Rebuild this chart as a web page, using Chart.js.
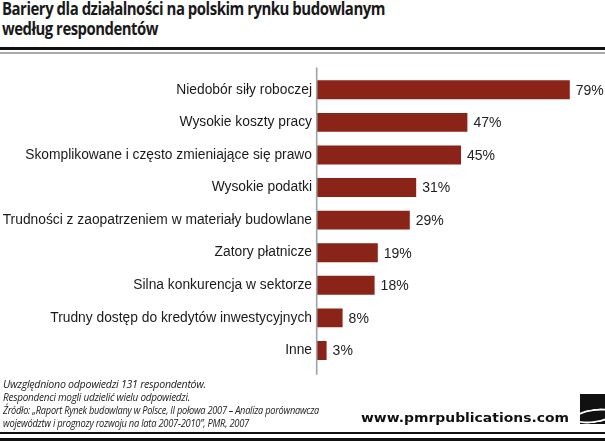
<!DOCTYPE html>
<html><head><meta charset="utf-8">
<script src="https://cdn.jsdelivr.net/npm/chart.js@4.4.0/dist/chart.umd.min.js"></script>
<style>
html,body{margin:0;padding:0;background:#fff;width:605px;height:443px;overflow:hidden;position:relative}
.t{position:absolute;white-space:nowrap;}
.fit{display:inline-block;transform-origin:left top;}
#title{left:2px;top:-2px;font:bold 18.5px "Open Sans",sans-serif;color:#1a1a1a;line-height:20px;letter-spacing:-0.6px}
.foot{left:3px;font:italic 11px "Open Sans",sans-serif;color:#222;line-height:13px;letter-spacing:-0.3px}
#www{font:bold 13px "DejaVu Sans",sans-serif;color:#111;top:410px;}
.rule{position:absolute;left:0;width:605px}
#chartwrap{position:absolute;left:0;top:60px;width:605px;height:320px}
#logo{position:absolute;left:580px;top:394px;width:25px;height:30px;background:#111;overflow:hidden}
#logo div{position:absolute;left:-6px;top:15px;width:36px;height:10px;border:2px solid #fff;border-radius:50%;border-right-color:transparent;transform:rotate(-8deg)}
</style></head><body>
<div class="t" id="title"><span class="fit" data-w="383">Bariery dla działalności na polskim rynku budowlanym</span><br><span class="fit" data-w="156">według respondentów</span></div>
<div class="rule" style="top:47px;height:3px;background:#111"></div>
<div class="rule" style="top:52px;height:2px;background:#aaa"></div>
<div id="chartwrap"><canvas id="c" width="605" height="320"></canvas></div>
<div class="t foot" style="top:377px"><span class="fit" data-w="203">Uwzględniono odpowiedzi 131 respondentów.</span></div>
<div class="t foot" style="top:390px"><span class="fit" data-w="187">Respondenci mogli udzielić wielu odpowiedzi.</span></div>
<div class="t foot" style="top:403px"><span class="fit" data-w="316">Źródło: „Raport Rynek budowlany w Polsce, II połowa 2007 – Analiza porównawcza</span></div>
<div class="t foot" style="top:416px"><span class="fit" data-w="246">województw i prognozy rozwoju na lata 2007-2010”, PMR, 2007</span></div>
<div class="t" id="www" style="left:361px"><span class="fit" data-w="208">www.pmrpublications.com</span></div>
<div id="logo"><div></div></div>
<div class="rule" style="top:432px;height:2px;background:#111"></div>
<div class="rule" style="top:438px;height:3px;background:#111"></div>
<script>
const categories = [
  "Niedobór siły roboczej",
  "Wysokie koszty pracy",
  "Skomplikowane i często zmieniające się prawo",
  "Wysokie podatki",
  "Trudności z zaopatrzeniem w materiały budowlane",
  "Zatory płatnicze",
  "Silna konkurencja w sektorze",
  "Trudny dostęp do kredytów inwestycyjnych",
  "Inne"
];
const values = [79, 47, 45, 31, 29, 19, 18, 8, 3];

document.querySelectorAll('.fit').forEach(el => {
  const w = el.getBoundingClientRect().width;
  const target = parseFloat(el.dataset.w);
  if (w > 0) el.style.transform = 'scaleX(' + (target / w) + ')';
});

const valueLabels = {
  id: 'valueLabels',
  afterDatasetsDraw(chart) {
    const ctx = chart.ctx;
    const meta = chart.getDatasetMeta(0);
    ctx.save();
    ctx.font = '14px "Liberation Sans", Arial, sans-serif';
    ctx.fillStyle = '#222';
    ctx.textAlign = 'left';
    ctx.textBaseline = 'middle';
    meta.data.forEach((bar, i) => {
      ctx.fillText(values[i] + '%', bar.x + 6, bar.y + 1);
    });
    ctx.restore();
  }
};
const axisLine = {
  id: 'axisLine',
  afterDraw(chart) {
    const ctx = chart.ctx, a = chart.chartArea;
    ctx.save();
    ctx.strokeStyle = '#9ba3a8';
    ctx.lineWidth = 1.6;
    ctx.beginPath();
    ctx.moveTo(a.left - 0.3, a.top - 6);
    ctx.lineTo(a.left - 0.3, a.bottom + 8);
    ctx.stroke();
    ctx.restore();
  }
};

new Chart(document.getElementById('c'), {
  type: 'bar',
  data: {
    labels: categories,
    datasets: [{
      data: values,
      backgroundColor: '#8a2318',
      borderWidth: 0,
      barPercentage: 0.58,
      categoryPercentage: 1
    }]
  },
  options: {
    indexAxis: 'y',
    responsive: false,
    devicePixelRatio: 1,
    animation: false,
    layout: { padding: { top: 13.5, bottom: 10.5, right: 16, left: 0 } },
    plugins: { legend: { display: false }, tooltip: { enabled: false }, title: { display: false } },
    scales: {
      x: { display: false, min: 0, max: 85 },
      y: {
        grid: { display: false, drawTicks: false },
        border: { display: false },
        ticks: { padding: 5, color: '#1a1a1a', font: { family: '"Liberation Sans", Arial, sans-serif', size: 13.8 } },
        afterFit(scale) { scale.width = 317; }
      }
    }
  },
  plugins: [valueLabels, axisLine]
});
</script>
</body></html>
